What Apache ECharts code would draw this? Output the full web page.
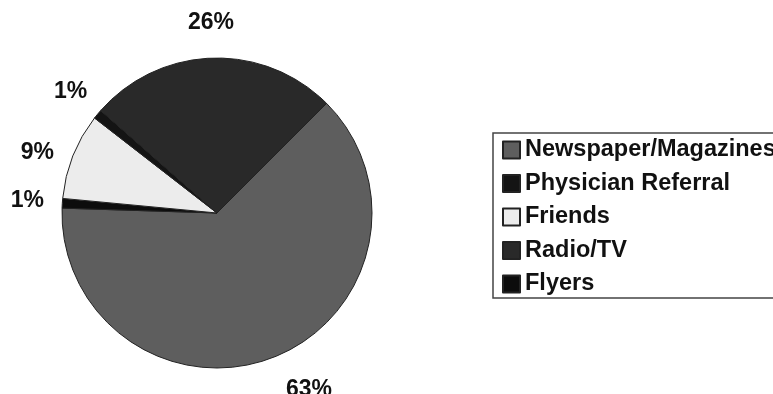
<!DOCTYPE html>
<html>
<head>
<meta charset="utf-8">
<script src="https://cdn.jsdelivr.net/npm/echarts@6/dist/echarts.min.js"></script>
<style>
  html, body { margin: 0; padding: 0; background: #fff; }
  #chart { width: 773px; height: 394px; }
</style>
</head>
<body>
<div id="chart"></div>
<script>
// slices in clockwise drawing order
const sliceNames = ['Newspaper/Magazines', 'Flyers', 'Friends', 'Physician Referral', 'Radio/TV']
const sliceValues = [63, 1, 9, 1, 26]
const sliceLabels = ['63%', '1%', '9%', '1%', '26%']
// legend order as printed in the box
const legendOrder = ['Newspaper/Magazines', 'Physician Referral', 'Friends', 'Radio/TV', 'Flyers']

const sliceColors = {
  'Newspaper/Magazines': '#5e5e5e',
  'Flyers': '#0c0c0c',
  'Friends': '#ececec',
  'Physician Referral': '#141414',
  'Radio/TV': '#292929'
}
// small hand nudges, the original labels are not exactly on the mid angle
const labelNudge = {
  'Newspaper/Magazines': [22, 0],
  'Friends': [-3, 10]
}

const chart = echarts.init(document.getElementById('chart'))

const pieData = sliceNames.map((n, i) => ({
  name: n,
  value: sliceValues[i],
  itemStyle: { color: sliceColors[n] }
}))

// invisible ring, only used to place the percent labels
const labelData = sliceNames.map((n, i) => ({
  name: n,
  value: sliceValues[i],
  label: { formatter: sliceLabels[i], offset: labelNudge[n] || [0, 0] }
}))

chart.setOption({
  animation: false,
  legend: {
    orient: 'vertical',
    left: 493,
    top: 133,
    data: legendOrder,
    icon: 'rect',
    itemWidth: 17,
    itemHeight: 17,
    itemGap: 9.5,
    padding: [5, 60, 2, 9],
    borderColor: '#444',
    borderWidth: 1.5,
    textStyle: {
      fontFamily: 'Liberation Sans, Arial, sans-serif',
      fontWeight: 'bold',
      fontSize: 23.5,
      lineHeight: 24,
      color: '#111'
    }
  },
  series: [
    {
      type: 'pie',
      center: [217, 213],
      radius: 155,
      startAngle: 45,
      clockwise: true,
      silent: true,
      label: { show: false },
      labelLine: { show: false },
      itemStyle: { borderColor: '#222', borderWidth: 1 },
      data: pieData
    },
    {
      type: 'pie',
      center: [217, 213],
      radius: [180, 194],
      startAngle: 45,
      clockwise: true,
      silent: true,
      itemStyle: { color: 'rgba(0,0,0,0)' },
      label: {
        show: true,
        position: 'inside',
        rotate: 0,
        fontFamily: 'Liberation Sans, Arial, sans-serif',
        fontWeight: 'bold',
        fontSize: 23,
        color: '#111'
      },
      labelLine: { show: false },
      data: labelData
    }
  ]
})
</script>
</body>
</html>
